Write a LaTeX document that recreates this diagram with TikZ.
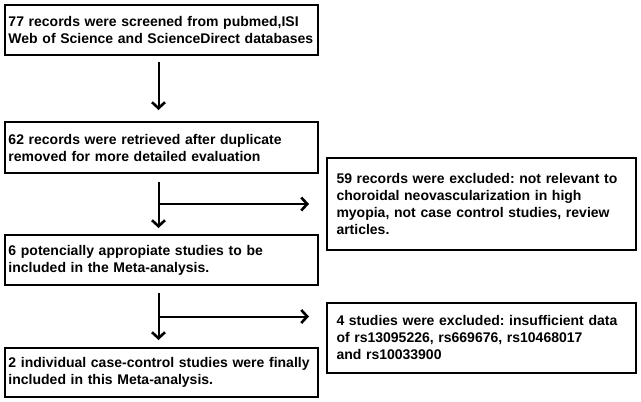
\documentclass[tikz,border=0pt]{standalone}
\usepackage{fontspec}
\setmainfont{Liberation Sans}
\usetikzlibrary{positioning,calc,arrows.meta}
\newcommand{\widthmain}{306pt}
\newcommand{\widthside}{290pt}
\tikzset{
    common/.style={draw, rectangle, line width=2.4pt, outer sep=0pt, anchor=north west, align=left,
        font=\bfseries\frenchspacing\fontsize{14pt}{17pt}\selectfont},
    mainbox/.style={common, text width=\widthmain, inner xsep=3.5pt},
    sidebox/.style={common, text width=\widthside, inner xsep=9.5pt},
    flow/.style={line width=2pt, -{Straight Barb[length=6pt,width=13pt,line width=2.6pt]}}
}

\begin{document}
\begin{tikzpicture}
    \useasboundingbox (0,0) rectangle (641pt,-402pt);

    \node[mainbox, minimum height=50pt] (screened) at (5pt,-5pt)
        {77 records were screened from pubmed,ISI\\Web of Science and ScienceDirect databases};
    \node[mainbox, minimum height=51pt, below=67pt of screened.south west, anchor=north west] (retrieved)
        {62 records were retrieved after duplicate\\removed for more detailed evaluation};
    \node[mainbox, minimum height=50pt, below=62pt of retrieved.south west, anchor=north west] (potential)
        {6 potencially appropiate studies to be\\included in the Meta-analysis.};
    \node[mainbox, minimum height=49pt, below=63pt of potential.south west, anchor=north west] (included)
        {2 individual case-control studies were finally\\included in this Meta-analysis.};

    \node[sidebox, minimum height=92pt] (excluded) at (327pt,-158pt)
        {59 records were excluded: not relevant to\\choroidal neovascularization in high\\myopia, not case control studies, review\\articles.};
    \node[sidebox, minimum height=70pt] (dropped) at (327pt,-303pt)
        {4 studies were excluded: insufficient data\\of rs13095226, rs669676, rs10468017\\and rs10033900};

    % main flow
    \draw[flow, shorten <=7pt, shorten >=12pt] ([xshift=-3pt]screened.south) -- ([xshift=-3pt]retrieved.north);
    \draw[flow, shorten <=9pt, shorten >=7pt] ([xshift=-3pt]retrieved.south) -- ([xshift=-3pt]potential.north);
    \draw[flow, shorten <=8pt, shorten >=8pt] ([xshift=-3pt]potential.south) -- ([xshift=-3pt]included.north);

    % side branches
    \coordinate (fork1) at ($([xshift=-3pt]retrieved.south)!0.5!([xshift=-3pt]potential.north)$);
    \coordinate (fork2) at ($([xshift=-3pt]potential.south)!0.5!([xshift=-3pt]included.north)$);
    \draw[flow, shorten >=18pt] (fork1) -- (fork1 -| excluded.west);
    \draw[flow, shorten >=18pt] (fork2) -- (fork2 -| dropped.west);
\end{tikzpicture}
\end{document}
